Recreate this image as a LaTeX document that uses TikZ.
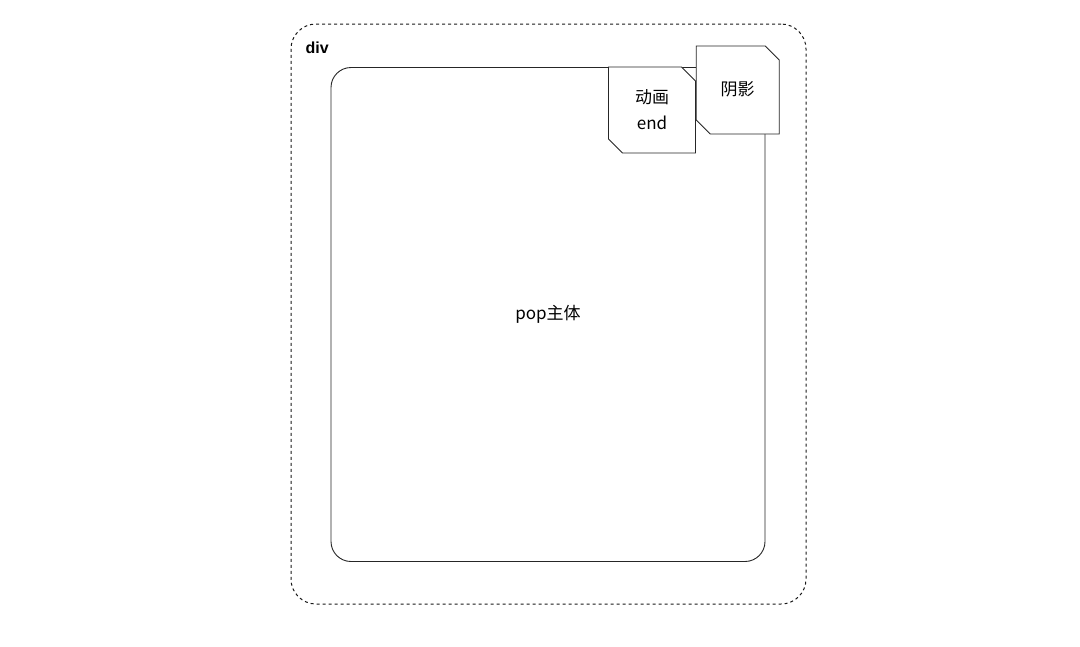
\documentclass[tikz,border=0pt]{standalone}
\usepackage{fontspec}
\setmainfont{Noto Sans CJK SC}
\newfontfamily\labelfont{Liberation Sans}
\usetikzlibrary{shapes.misc}

\begin{document}
\begin{tikzpicture}[x=1pt,y=-1pt]
\tikzset{box/.style={draw=black!85,line width=0.9pt,fill=white,inner sep=0pt}}
\tikzset{cutbox/.style={box,chamfered rectangle,chamfered rectangle corners={north east,south west},chamfered rectangle xsep=7pt,chamfered rectangle ysep=7pt,align=center}}
\tikzset{every node/.style={font=\fontsize{17}{26}\selectfont}}

\useasboundingbox (0,0) rectangle (1080,646);

% outer div
\node[box,draw=black!90,line width=1pt,dash pattern=on 3pt off 3pt,rounded corners=25pt,minimum width=515pt,minimum height=580pt] (div) at (548.5,314) {};
\node[anchor=west,font=\labelfont\bfseries\fontsize{16}{18}\selectfont] (divlabel) at (302,48) {div};

% pop body
\node[box,rounded corners=20pt,minimum width=434pt,minimum height=494pt] (pop) at (548,314.5) {pop主体};

% corner pieces
\node[cutbox,minimum width=87pt,minimum height=86pt] (anim) at (652,110) {动画\\end};
\node[cutbox,minimum width=83pt,minimum height=88pt] (shadow) at (737.7,90) {\raisebox{2pt}{阴影}};

\end{tikzpicture}
\end{document}
